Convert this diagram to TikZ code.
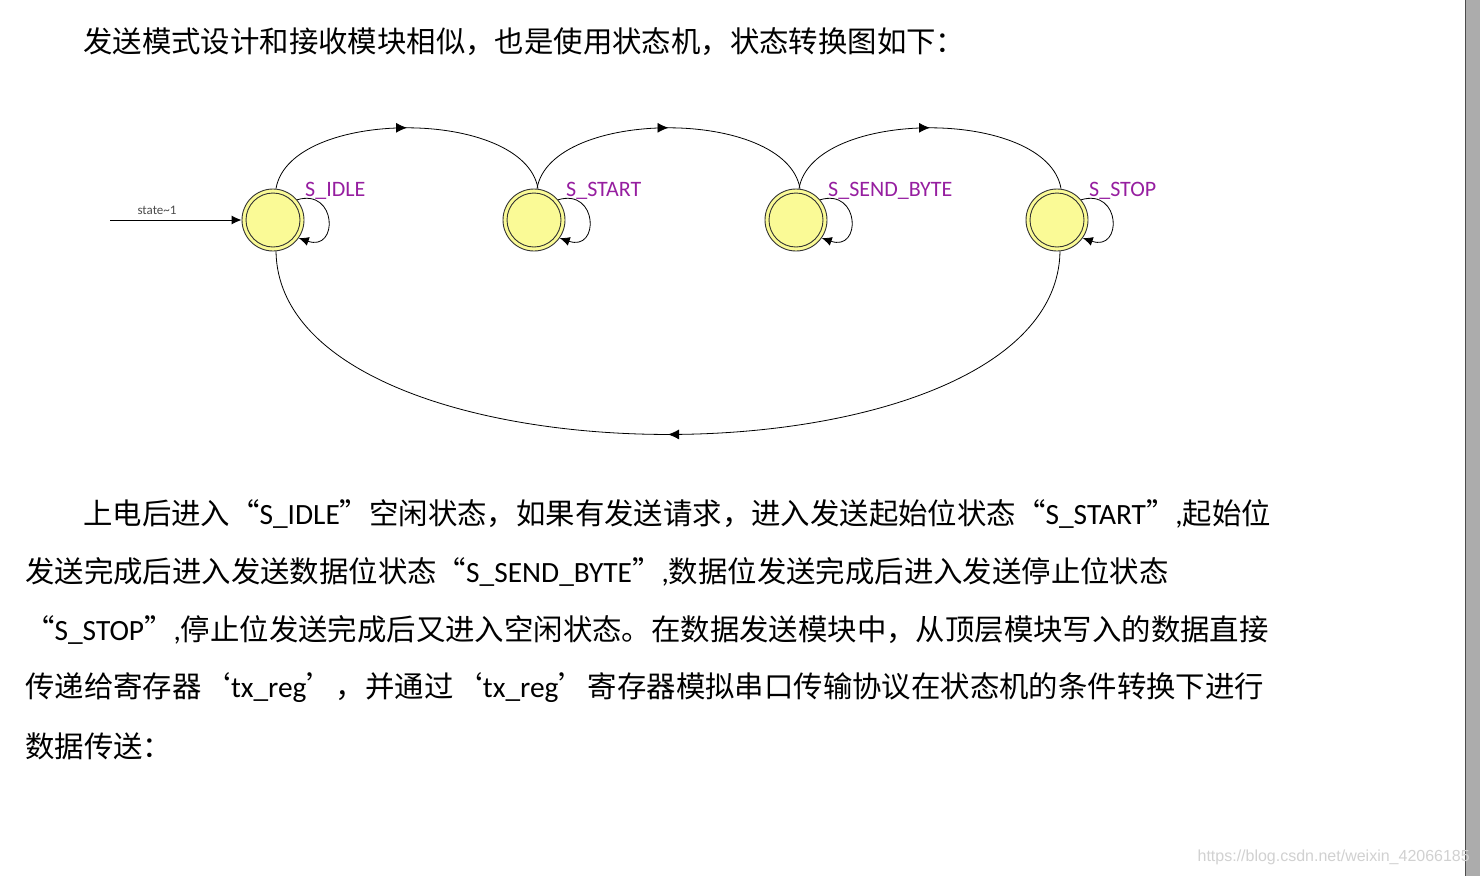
\documentclass[tikz,border=0pt]{standalone}
\usepackage{fontspec}
\setmainfont{Carlito}
\newfontfamily\cjk{Noto Sans CJK SC}
\usetikzlibrary{arrows.meta,decorations.markings}
\begin{document}
\begin{tikzpicture}[x=1pt,y=-1pt,
  st/.style={circle,draw=black!80,line width=0.9pt,fill={rgb,255:red,250;green,250;blue,150},minimum size=62pt,inner sep=0pt},
  lbl/.style={anchor=west,text={rgb,255:red,150;green,30;blue,160},font=\fontsize{22}{22}\selectfont,inner sep=0pt},
  edge/.style={line width=0.8pt,postaction={decorate},decoration={markings,mark=at position 0.5 with {\arrow{Latex[length=11pt,width=10pt]}}}},
  loop/.style={line width=0.8pt,-{Latex[length=10pt,width=9pt]}},
  txt/.style={anchor=west,inner sep=0pt,font=\fontsize{29.4}{29.4}\selectfont}]
\useasboundingbox (0,0) rectangle (1480,876);
\fill[white] (0,0) rectangle (1480,876);
\fill[gray!65] (1465,0) rectangle (1480,876);
\draw[black!70,line width=1pt] (1465,0) -- (1465,876);
\node[txt] (title) at (83,42) {{\cjk 发送模式设计和接收模块相似，也是使用状态机，状态转换图如下：}};
\foreach \n/\x in {s1/273,s2/534,s3/796,s4/1057}{
  \node[st] (\n) at (\x,220) {};
  \draw[black!80,line width=0.9pt] (\x,220) circle (27);
}
\node[lbl] (l1) at (305,191) {S\_IDLE};
\node[lbl] (l2) at (566,191) {S\_START};
\node[lbl] (l3) at (828,191) {S\_SEND\_BYTE};
\node[lbl] (l4) at (1089,191) {S\_STOP};
\coordinate (init) at (110,220);
\draw[line width=0.9pt,-{Latex[length=10pt,width=9pt]}] (init) -- (s1.west);
\node[font=\fontsize{13}{13}\selectfont,text=black!70] (il) at (157,210) {state\textasciitilde1};
\foreach \a/\b in {s1/s2,s2/s3,s3/s4}{
  \draw[edge] ([xshift=3pt]\a.north) .. controls +(14,-81) and +(-14,-81) .. ([xshift=4pt]\b.north);
}
\draw[line width=0.8pt,postaction={decorate},decoration={markings,mark=at position 0.5 with {\arrowreversed{Latex[length=11pt,width=10pt]}}}]
  ([xshift=3pt]s1.south) .. controls +(4,244) and +(-4,244) .. ([xshift=3pt]s4.south);
\foreach \n in {s1,s2,s3,s4}{
  \draw[loop] (\n.40) .. controls +(40,-12) and +(40,14) .. (\n.-35);
}
\node[txt] (p1) at (83,514) {{\cjk 上电后进入“}S\_IDLE{\cjk ”空闲状态，如果有发送请求，进入发送起始位状态“}S\_START{\cjk ”}{,}{\cjk 起始位}};
\node[txt] (p2) at (25,572) {{\cjk 发送完成后进入发送数据位状态“}S\_SEND\_BYTE{\cjk ”}{,}{\cjk 数据位发送完成后进入发送停止位状态}};
\node[txt] (p3) at (25,630) {{\cjk “}S\_STOP{\cjk ”}{,}{\cjk 停止位发送完成后又进入空闲状态。在数据发送模块中，从顶层模块写入的数据直接}};
\node[txt] (p4) at (25,688) {{\cjk 传递给寄存器‘}tx\_reg{\cjk ’，并通过‘}tx\_reg{\cjk ’寄存器模拟串口传输协议在状态机的条件转换下进行}};
\node[txt] (p5) at (25,746) {{\cjk 数据传送：}};
\node[anchor=east,inner sep=0pt,text=black!18,font=\fontsize{16}{16}\selectfont] (wm) at (1470,857) {\fontspec{Liberation Sans}https://blog.csdn.net/weixin\_42066185};
\end{tikzpicture}
\end{document}
